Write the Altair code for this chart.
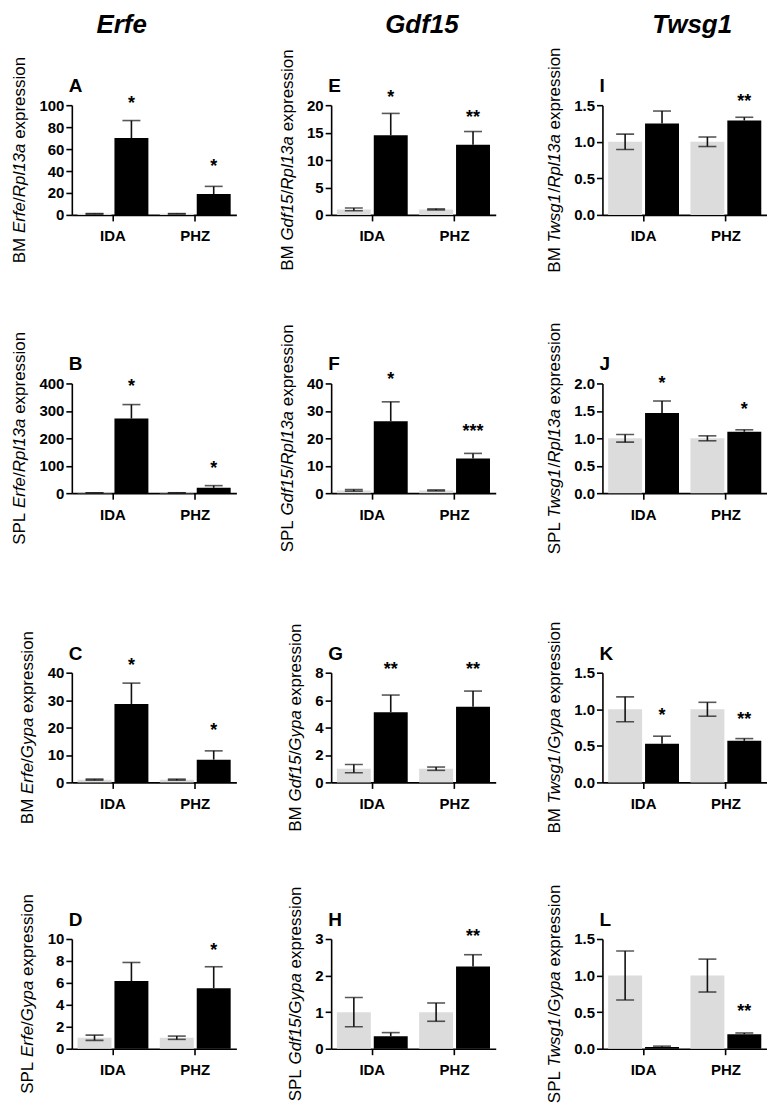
import altair as alt
import pandas as pd

groups = ["IDA", "PHZ"]
series = ["Control", "Treated"]

letters = ["A", "B", "C", "D", "E", "F", "G", "H", "I", "J", "K", "L"]
genes = ["Erfe", "Gdf15", "Twsg1"]
title_tissue = ["BM", "SPL", "BM", "SPL", "BM", "SPL", "BM", "SPL", "BM", "SPL", "BM", "SPL"]
title_gene = ["Erfe", "Erfe", "Erfe", "Erfe", "Gdf15", "Gdf15", "Gdf15", "Gdf15",
              "Twsg1", "Twsg1", "Twsg1", "Twsg1"]
title_ref = ["Rpl13a", "Rpl13a", "Gypa", "Gypa", "Rpl13a", "Rpl13a", "Gypa", "Gypa",
             "Rpl13a", "Rpl13a", "Gypa", "Gypa"]
y_ticks = [
    [0, 20, 40, 60, 80, 100], [0, 100, 200, 300, 400], [0, 10, 20, 30, 40], [0, 2, 4, 6, 8, 10],
    [0, 5, 10, 15, 20], [0, 10, 20, 30, 40], [0, 2, 4, 6, 8], [0, 1, 2, 3],
    [0, 0.5, 1.0, 1.5], [0, 0.5, 1.0, 1.5, 2.0], [0, 0.5, 1.0, 1.5], [0, 0.5, 1.0, 1.5],
]
y_formats = ["d", "d", "d", "d", "d", "d", "d", "d", ".1f", ".1f", ".1f", ".1f"]

ctrl_mean = [[1, 1], [1, 1], [1, 1], [1, 1], [1, 1], [1, 1],
             [1, 1], [1, 1], [1, 1], [1, 1], [1, 1], [1, 1]]
ctrl_sem = [[0.3, 0.2], [0.5, 0.5], [0.2, 0.2], [0.24, 0.15], [0.25, 0.1], [0.3, 0.2],
            [0.3, 0.12], [0.4, 0.25], [0.105, 0.065], [0.07, 0.045], [0.17, 0.095], [0.335, 0.225]]
trt_mean = [[70, 19], [272, 19.5], [28.6, 8.3], [6.16, 5.52], [14.5, 12.8], [26.2, 12.6],
            [5.12, 5.51], [0.34, 2.25], [1.25, 1.29], [1.46, 1.12], [0.527, 0.569], [0.023, 0.197]]
trt_sem = [[16, 7], [51, 8], [7.6, 3.2], [1.7, 1.95], [4, 2.4], [7.1, 1.9],
           [1.25, 1.15], [0.1, 0.32], [0.17, 0.045], [0.22, 0.035], [0.105, 0.03], [0.012, 0.018]]
stars = [["*", "*"], ["*", "*"], ["*", "*"], ["", "*"], ["*", "**"], ["*", "***"],
         ["**", "**"], ["", "**"], ["", "**"], ["*", "*"], ["*", "**"], ["", "**"]]
star_y = [[106, 48], [405, 107], [44.3, 20.5], [0, 9.39], [22.3, 18.5], [43, 24],
          [8.54, 8.54], [0, 3.18], [0, 1.61], [2.08, 1.60], [0.97, 0.92], [0, 0.57]]

PW, PH = 165, 110
row_off = [0, 12, 23, 0]
col_extra = [0, 12, 0]
gene_dx = [50, 91, 90]
FONT = "Liberation Sans"
INK = "#111111"
LABEL_FS = 15
TITLE_FS = 17
TICK = 6
LABEL_PAD = 2
TITLE_PAD = 10

# Arial / Liberation Sans advance widths (1/1000 em); italic shares the regular widths
REG_W = {' ': 278, 'B': 667, 'M': 833, 'S': 667, 'P': 667, 'L': 556, 'E': 667, 'r': 333,
         'f': 278, 'e': 556, '/': 278, 'R': 722, 'p': 556, 'l': 222, '1': 556, '3': 556,
         'a': 556, 'G': 778, 'y': 500, 'd': 556, '5': 556, 'T': 611, 'w': 722, 's': 500,
         'g': 556, 'x': 500, 'i': 222, 'o': 556, 'n': 556}
BOLD_W = {'.': 278}


def text_w(s, fs, table, default=556):
    return sum(table.get(c, default) for c in s) * fs / 1000.0


def panel(i, row, col):
    o = row_off[row]
    recs = []
    for g in range(2):
        m, s = ctrl_mean[i][g], ctrl_sem[i][g]
        recs.append(dict(group=groups[g], series="Control", mean=m, lo=m - s, hi=m + s,
                         star="", sy=0))
        m, s = trt_mean[i][g], trt_sem[i][g]
        recs.append(dict(group=groups[g], series="Treated", mean=m, lo=m, hi=m + s,
                         star=stars[i][g], sy=star_y[i][g]))
    df = pd.DataFrame(recs)
    base = alt.Chart(df)
    xs = alt.Scale(domain=groups, range=[0, PW], paddingInner=0, paddingOuter=0)
    x = alt.X("group:N", scale=xs, sort=groups,
              axis=alt.Axis(title=None, labelAngle=0, labelPadding=8, labelFontSize=15))
    xo = alt.XOffset("series:N", sort=series,
                     scale=alt.Scale(domain=series, paddingInner=0.08, paddingOuter=0.155))
    ys = alt.Scale(domain=[0, y_ticks[i][-1]], range=[PH + o, o], nice=False, zero=True)
    yax = alt.Axis(values=y_ticks[i], format=y_formats[i], title=None)

    def Y(f):
        return alt.Y(f, scale=ys, axis=yax)

    bars = base.mark_bar().encode(
        x=x, xOffset=xo, y=Y("mean:Q"),
        color=alt.Color("series:N", scale=alt.Scale(domain=series, range=["#dcdcdc", "#000000"]),
                        legend=None),
    )
    rule = base.mark_rule(color=INK, strokeWidth=1.6).encode(
        x=x, xOffset=xo, y=Y("lo:Q"), y2="hi:Q")
    cap_hi = base.mark_tick(color=INK, size=18, thickness=1.6, orient="horizontal").encode(
        x=x, xOffset=xo, y=Y("hi:Q"))
    cap_lo = base.transform_filter("datum.series == 'Control'").mark_tick(
        color=INK, size=18, thickness=1.6, orient="horizontal").encode(
        x=x, xOffset=xo, y=Y("lo:Q"))
    star_txt = base.transform_filter("datum.star != ''").mark_text(
        font=FONT, fontSize=18, fontWeight="bold", baseline="alphabetic", dy=10, color="#000"
    ).encode(x=x, xOffset=xo, y=Y("sy:Q"), text="star:N")
    letter = alt.Chart(pd.DataFrame({"t": [letters[i]]})).mark_text(
        font=FONT, fontSize=19, fontWeight="bold", align="left", baseline="alphabetic", color="#000"
    ).encode(x=alt.value(-3), y=alt.value(o - 13), text="t:N")
    layers = [bars, rule, cap_hi, cap_lo, star_txt, letter]

    # y-axis title with italic gene names, built from pieces
    fmt = (lambda v: f"{v:.1f}") if y_formats[i] == ".1f" else (lambda v: str(int(v)))
    lw = max(text_w(fmt(v), LABEL_FS, BOLD_W) for v in y_ticks[i])
    tx = -(TICK + LABEL_PAD + lw + TITLE_PAD)
    pieces = [(title_tissue[i] + " ", False), (title_gene[i], True), ("/", False),
              (title_ref[i], True), (" expression", False)]
    total = sum(text_w(p, TITLE_FS, REG_W) for p, _ in pieces)
    ybot = o + PH / 2 + total / 2
    cum = 0.0
    for p, ital in pieces:
        lead = len(p) - len(p.lstrip(" "))
        start = cum + text_w(" " * lead, TITLE_FS, REG_W)
        seg = alt.Chart(pd.DataFrame({"t": [p.strip()]})).mark_text(
            font=FONT, fontSize=TITLE_FS, fontStyle="italic" if ital else "normal",
            angle=270, align="left", baseline="bottom", color="#000"
        ).encode(x=alt.value(tx), y=alt.value(ybot - start), text="t:N")
        layers.append(seg)
        cum += text_w(p, TITLE_FS, REG_W)

    if row == 0:
        gt = alt.Chart(pd.DataFrame({"t": [genes[col]]})).mark_text(
            font=FONT, fontSize=26, fontWeight="bold", fontStyle="italic", align="center",
            baseline="alphabetic", color="#000"
        ).encode(x=alt.value(gene_dx[col]), y=alt.value(o - 72), text="t:N")
        layers.append(gt)
    return alt.layer(*layers).properties(width=PW + col_extra[col], height=PH + o)


charts = []
for row in range(4):
    for col in range(3):
        charts.append(panel(col * 4 + row, row, col))

chart = alt.concat(*charts, columns=3, spacing={"row": 157, "column": 95}, bounds="flush").properties(
    padding={"left": 2, "top": 3, "right": 0, "bottom": 0}
).configure_view(stroke=None).configure_axis(
    grid=False,
    domainColor="#000", domainWidth=1.6,
    tickColor="#000", tickWidth=1.6, tickSize=TICK,
    labelFont=FONT, labelFontSize=LABEL_FS, labelFontWeight="bold", labelColor="#000",
    labelPadding=LABEL_PAD,
)

chart.save("out.html", embed_options={"renderer": "svg", "actions": False})
